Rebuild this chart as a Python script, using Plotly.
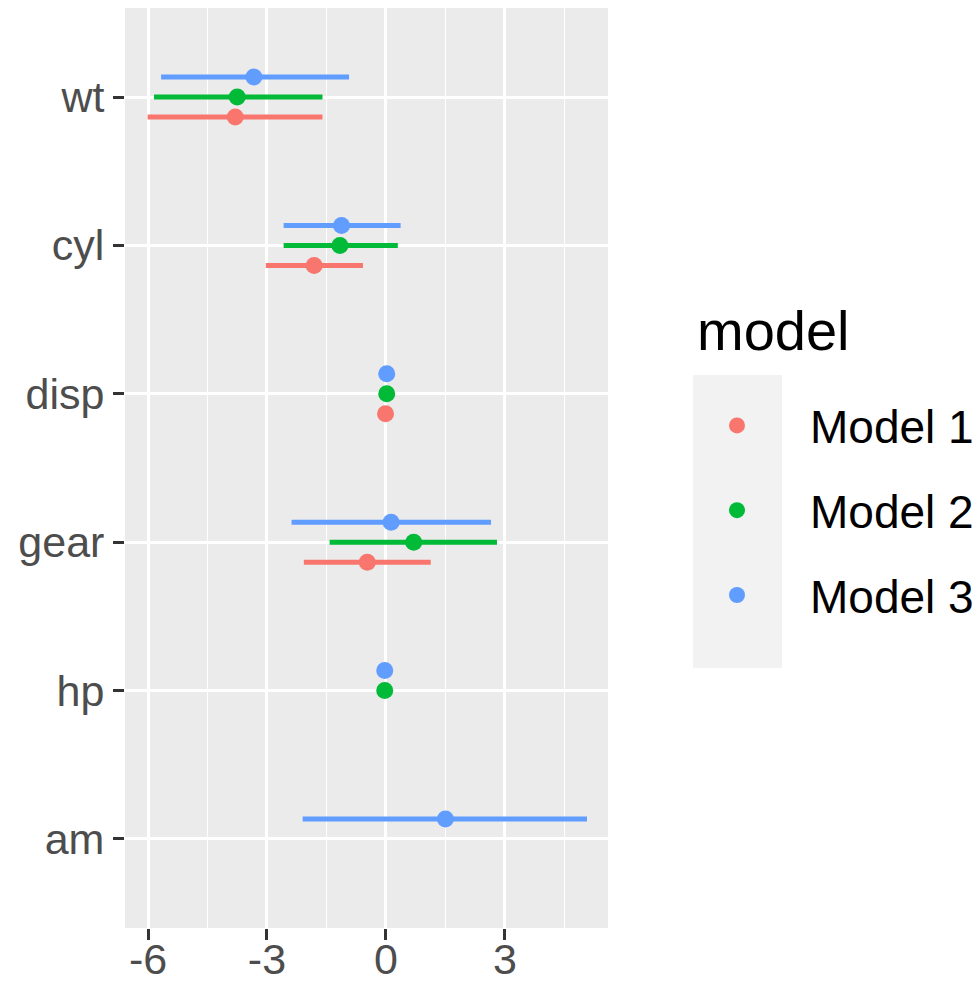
import plotly.graph_objects as go

terms = ["wt", "cyl", "disp", "gear", "hp", "am"]
models = ["Model 1", "Model 2", "Model 3"]
colors = ["#F8766D", "#00BA38", "#619CFF"]

m1_est = [-3.80, -1.81, -0.01, -0.47, None, None]
m1_lo = [-6.01, -3.03, -0.02, -2.07, None, None]
m1_hi = [-1.60, -0.58, 0.00, 1.13, None, None]

m2_est = [-3.75, -1.16, 0.02, 0.70, -0.03, None]
m2_lo = [-5.85, -2.58, 0.01, -1.42, -0.04, None]
m2_hi = [-1.60, 0.30, 0.03, 2.80, -0.02, None]

m3_est = [-3.33, -1.12, 0.02, 0.13, -0.03, 1.50]
m3_lo = [-5.67, -2.58, 0.01, -2.38, -0.04, -2.10]
m3_hi = [-0.93, 0.37, 0.03, 2.65, -0.02, 5.07]

x_tickvals = [-6, -3, 0, 3]
x_ticktext = ["-6", "-3", "0", "3"]
x_minor = [-4.5, -1.5, 1.5, 4.5]

series = [(m1_est, m1_lo, m1_hi), (m2_est, m2_lo, m2_hi), (m3_est, m3_lo, m3_hi)]

fig = go.Figure()
for name, col, (est, lo, hi) in zip(models, colors, series):
    plus = [None if e is None else h - e for e, h in zip(est, hi)]
    minus = [None if e is None else e - l for e, l in zip(est, lo)]
    fig.add_trace(go.Scatter(
        x=est, y=terms, name=name, mode="markers", orientation="h",
        offsetgroup=name, legendgroup=name,
        marker=dict(color=col, size=17),
        error_x=dict(type="data", array=plus, arrayminus=minus, symmetric=False,
                     color=col, thickness=5, width=0),
    ))

FONT = "Liberation Sans, Arial, sans-serif"
W, H = 974, 994
fig.update_layout(
    width=W, height=H,
    margin=dict(l=125, r=366, t=8, b=66),
    plot_bgcolor="#EBEBEB", paper_bgcolor="white",
    scattermode="group", scattergap=0.596,
    font=dict(family=FONT, size=43, color="#4D4D4D"),
    xaxis=dict(range=[-6.58, 5.60], tickmode="array", tickvals=x_tickvals, ticktext=x_ticktext,
               showgrid=True, gridcolor="white", gridwidth=2.5, zeroline=False,
               minor=dict(tickmode="array", tickvals=x_minor, showgrid=True, gridcolor="white", gridwidth=1.2, ticks=""),
               ticks="outside", ticklen=11, tickwidth=2.5, tickcolor="#333333", ticklabelstandoff=-18,
               tickfont=dict(family=FONT, size=43, color="#4D4D4D"), automargin=False, fixedrange=True),
    yaxis=dict(type="category", categoryorder="array", categoryarray=terms[::-1], range=[-0.6, 5.6],
               showgrid=True, gridcolor="white", gridwidth=2.5, zeroline=False,
               ticks="outside", ticklen=11, tickwidth=2.5, tickcolor="#333333",
               tickfont=dict(family=FONT, size=43, color="#4D4D4D"), automargin=False, fixedrange=True),
    legend=dict(xref="container", yref="container", x=664 / W, y=1 - 389 / H,
                xanchor="left", yanchor="top", bgcolor="rgba(0,0,0,0)",
                font=dict(family=FONT, size=46, color="black"),
                itemsizing="trace", tracegroupgap=22, itemwidth=136),
    shapes=[dict(type="rect", xref="paper", yref="paper",
                 x0=(693 - 125) / 483, x1=(782 - 125) / 483,
                 y0=(928 - 668) / 920, y1=(928 - 375) / 920,
                 fillcolor="#F2F2F2", line=dict(width=0), layer="below")],
    annotations=[dict(text="model", xref="paper", yref="paper",
                      x=(695 - 125) / 483, y=(928 - 330) / 920, xanchor="left", yanchor="middle",
                      showarrow=False, font=dict(family=FONT, size=56, color="black"))],
)

fig.write_html("out.html", config={"displayModeBar": False},
               post_script="document.body.style.margin='0';document.body.style.overflow='hidden';")
